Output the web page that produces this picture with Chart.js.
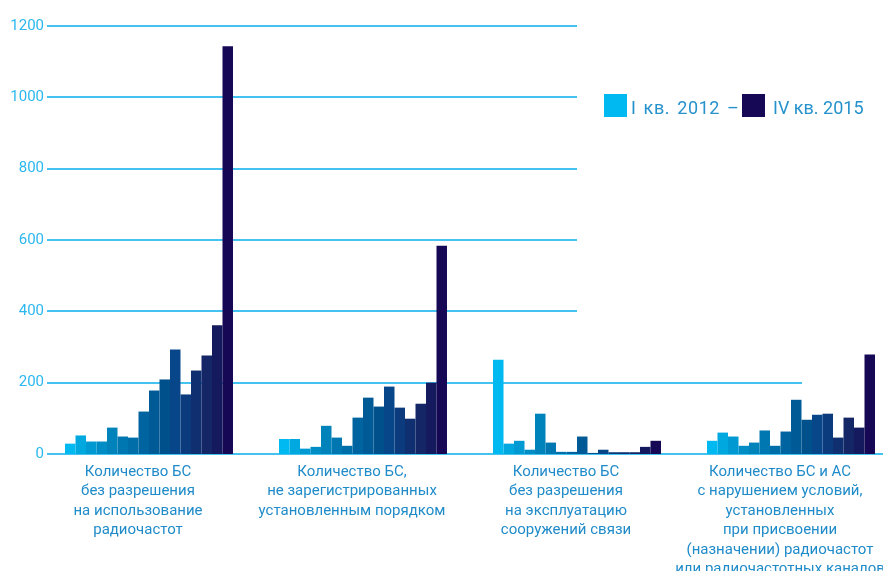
<!DOCTYPE html>
<html>
<head>
<meta charset="utf-8">
<script src="https://cdn.jsdelivr.net/npm/chart.js@4/dist/chart.umd.min.js"></script>
<style>
html,body{margin:0;padding:0;background:#fff;overflow:hidden;width:883px;height:571px;}
#wrap{position:absolute;left:0;top:0;width:898px;height:571px;}
</style>
</head>
<body>
<div id="wrap"><canvas id="c" width="898" height="571"></canvas></div>
<script>
// Categories (x-axis groups)
const categories = [
  ['Количество БС', 'без разрешения', 'на использование', 'радиочастот'],
  ['Количество БС,', 'не зарегистрированных', 'установленным порядком'],
  ['Количество БС', 'без разрешения', 'на эксплуатацию', 'сооружений связи'],
  ['Количество БС и АС', 'с нарушением условий,', 'установленных', 'при присвоении', '(назначении) радиочастот', 'или радиочастотных каналов']
];

// Quarters (series)
const quarters = [
  'I кв. 2012', 'II кв. 2012', 'III кв. 2012', 'IV кв. 2012',
  'I кв. 2013', 'II кв. 2013', 'III кв. 2013', 'IV кв. 2013',
  'I кв. 2014', 'II кв. 2014', 'III кв. 2014', 'IV кв. 2014',
  'I кв. 2015', 'II кв. 2015', 'III кв. 2015', 'IV кв. 2015'
];

// Values per category, one per quarter
const noPermitUse       = [29, 52, 35, 35, 74, 49, 46, 119, 178, 209, 293, 167, 234, 276, 361, 1143];
const notRegistered     = [42, 42, 15, 20, 79, 46, 23, 102, 158, 133, 189, 130, 99, 141, 200, 584];
const noPermitOperation = [264, 29, 37, 12, 113, 32, 6, 6, 49, 3, 12, 5, 5, 5, 20, 37];
const violations        = [37, 60, 49, 23, 32, 66, 23, 63, 152, 96, 110, 113, 46, 102, 74, 279];

// Y tick labels
const yTicks = [0, 200, 400, 600, 800, 1000, 1200];

// Legend
const legendLabels = ['I кв. 2012 –', 'IV кв. 2015'];

const colors = [
  '#00b9f0','#00a8e0','#0099d1','#008dc5','#0082bb','#0077b0','#006ea8','#0064a0',
  '#005a96','#00508c','#08468a','#0b3b7c','#102f70','#152666','#15195e','#170856'
];

const seriesByCategory = [noPermitUse, notRegistered, noPermitOperation, violations];
const datasets = quarters.map((q, i) => ({
  label: q,
  data: seriesByCategory.map(s => s[i]),
  backgroundColor: colors[i],
  borderWidth: 0,
  barPercentage: 1.0,
  categoryPercentage: 0.785
}));

const gridPlugin = {
  id: 'customGrid',
  beforeDatasetsDraw(chart) {
    const ctx = chart.ctx;
    const y = chart.scales.y, x = chart.scales.x;
    const left = chart.chartArea.left + 5;
    ctx.save();
    ctx.strokeStyle = '#45c3f0';
    ctx.lineWidth = 2;
    yTicks.forEach(v => {
      let end;
      if (v >= 400) end = x.getPixelForValue(2);
      else if (v === 200) end = x.getPixelForValue(3) + 11;
      else end = chart.width;
      const py = Math.round(y.getPixelForValue(v));
      ctx.beginPath();
      ctx.moveTo(left, py);
      ctx.lineTo(end, py);
      ctx.stroke();
    });
    ctx.restore();
  },
  afterDraw(chart) {
    const ctx = chart.ctx;
    ctx.save();
    ctx.font = '18px Roboto';
    ctx.textBaseline = 'alphabetic';
    ctx.fillStyle = colors[0];
    ctx.fillRect(604, 94, 23, 23);
    ctx.fillStyle = '#2592cc';
    ctx.letterSpacing = '0.6px';
    ctx.wordSpacing = '2px';
    ctx.fillText(legendLabels[0], 631, 114);
    ctx.letterSpacing = '0px';
    ctx.wordSpacing = '0px';
    ctx.fillStyle = colors[15];
    ctx.fillRect(742, 94, 23, 23);
    ctx.fillStyle = '#2592cc';
    ctx.fillText(legendLabels[1], 773, 114);
    ctx.restore();
  }
};

new Chart(document.getElementById('c'), {
  type: 'bar',
  data: { labels: categories, datasets },
  options: {
    responsive: false,
    animation: false,
    layout: { padding: { top: 26, left: 0, right: 0, bottom: 0 } },
    plugins: { legend: { display: false }, tooltip: { enabled: false }, title: { display: false } },
    scales: {
      x: {
        grid: { display: false, drawTicks: false },
        border: { display: false },
        ticks: {
          autoSkip: false, maxRotation: 0, minRotation: 0,
          padding: 8, labelOffset: -11,
          color: '#1f8bc9',
          font: { family: 'Roboto', size: 15, lineHeight: '19.5px' }
        },
        afterFit(s) { s.height = 117; s.paddingLeft = 0; s.paddingRight = 0; }
      },
      y: {
        min: 0, max: 1200,
        grid: { display: false, drawTicks: false },
        border: { display: false },
        afterBuildTicks(s) { s.ticks = yTicks.map(v => ({ value: v })); },
        ticks: {
          padding: -2,
          color: '#2cb8ef',
          font: { family: 'Roboto', size: 15 },
          callback: (v) => String(v)
        },
        afterFit(s) {
          s.width = 42;
          s._computeLabelArea = () => undefined; // let labels extend past the axis box
        }
      }
    }
  },
  plugins: [gridPlugin]
});
</script>
</body>
</html>
